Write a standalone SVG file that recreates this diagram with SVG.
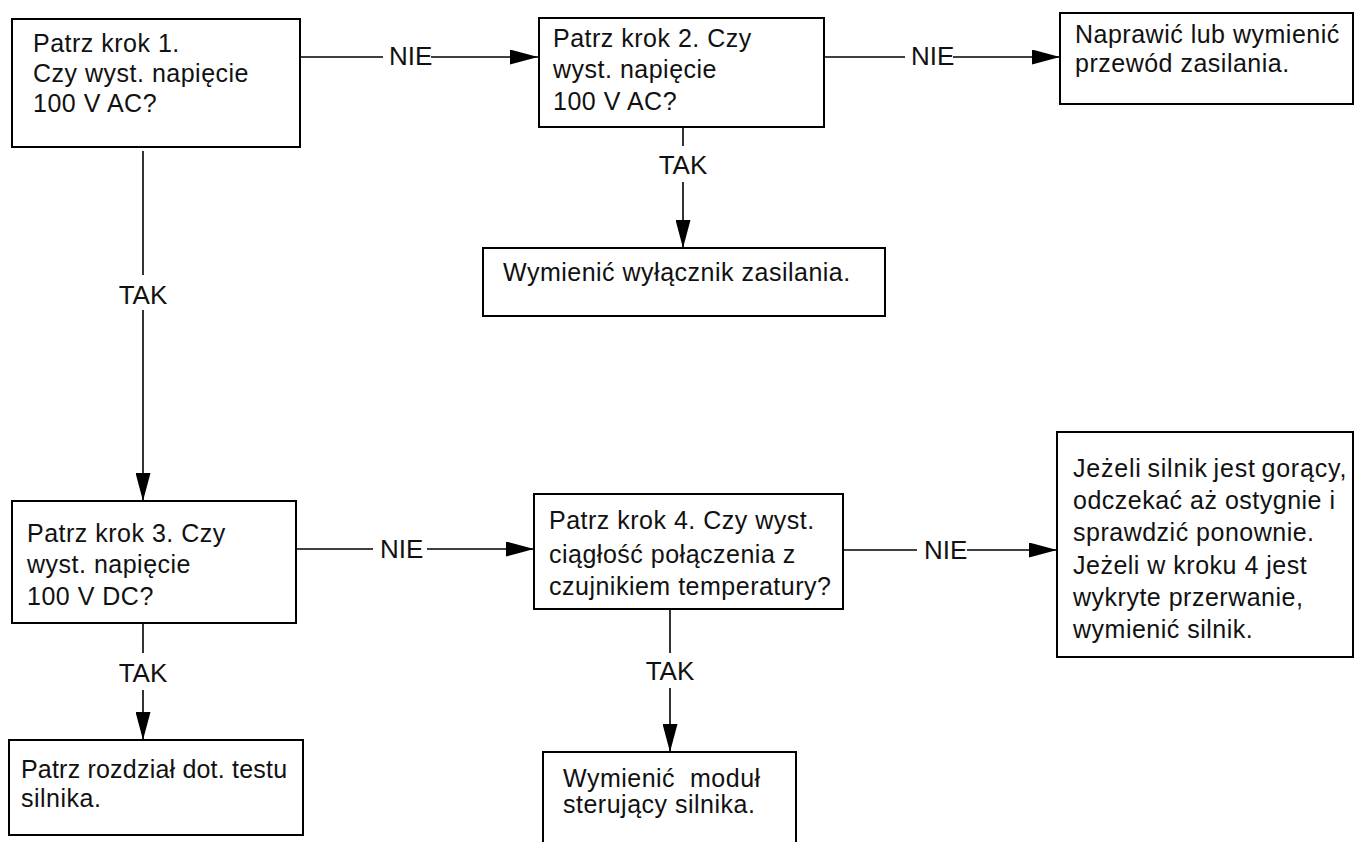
<svg xmlns="http://www.w3.org/2000/svg" width="1356" height="842" viewBox="0 0 1356 842">
<style>
.box{fill:#fff;stroke:#000;stroke-width:2}
.t{font-family:"Liberation Sans",Arial,Helvetica,sans-serif;font-size:25px;letter-spacing:0.5px;fill:#111}
.lbl{font-family:"Liberation Sans",Arial,Helvetica,sans-serif;font-size:26px;fill:#111}
.c{stroke:#000;stroke-width:1.6;fill:none}
</style>
<defs>
<marker id="ah" viewBox="0 0 28 15" markerWidth="28" markerHeight="15" refX="28" refY="7.5" orient="auto" markerUnits="userSpaceOnUse">
<path d="M0,0 L28,7.5 L0,15 Z" fill="#000"/>
</marker>
</defs>
<rect width="1356" height="842" fill="#fff"/>

<g id="n1">
<rect class="box" x="12" y="19" width="288" height="128"/>
<text class="t"><tspan x="33" y="52">Patrz krok 1.</tspan><tspan x="33" y="82">Czy wyst. napięcie</tspan><tspan x="33" y="112">100 V AC?</tspan></text>
</g>
<g id="n2">
<rect class="box" x="539" y="18" width="285" height="109"/>
<text class="t"><tspan x="553" y="47">Patrz krok 2. Czy</tspan><tspan x="553" y="78">wyst. napięcie</tspan><tspan x="553" y="110">100 V AC?</tspan></text>
</g>
<g id="n3">
<rect class="box" x="1060" y="13" width="293" height="91"/>
<text class="t"><tspan x="1075" y="43">Naprawić lub wymienić</tspan><tspan x="1075" y="72">przewód zasilania.</tspan></text>
</g>
<g id="n4">
<rect class="box" x="483" y="248" width="402" height="68"/>
<text class="t" x="503" y="281">Wymienić wyłącznik zasilania.</text>
</g>
<g id="n5">
<rect class="box" x="12" y="501" width="284" height="122"/>
<text class="t"><tspan x="27" y="542">Patrz krok 3. Czy</tspan><tspan x="27" y="573">wyst. napięcie</tspan><tspan x="27" y="605">100 V DC?</tspan></text>
</g>
<g id="n6">
<rect class="box" x="534" y="494" width="309" height="115"/>
<text class="t"><tspan x="549" y="529">Patrz krok 4. Czy wyst.</tspan><tspan x="549" y="563">ciągłość połączenia z</tspan><tspan x="549" y="595">czujnikiem temperatury?</tspan></text>
</g>
<g id="n7">
<rect class="box" x="1057" y="432" width="296" height="225"/>
<text class="t"><tspan x="1073" y="477" style="word-spacing:-2px;letter-spacing:0.8px">Jeżeli silnik jest gorący,</tspan><tspan x="1073" y="509">odczekać aż ostygnie i</tspan><tspan x="1073" y="541">sprawdzić ponownie.</tspan><tspan x="1073" y="574">Jeżeli w kroku 4 jest</tspan><tspan x="1073" y="606">wykryte przerwanie,</tspan><tspan x="1073" y="638">wymienić silnik.</tspan></text>
</g>
<g id="n8">
<rect class="box" x="9" y="740" width="294" height="95"/>
<text class="t"><tspan x="21" y="778" style="letter-spacing:0.2px">Patrz rozdział dot. testu</tspan><tspan x="21" y="807">silnika.</tspan></text>
</g>
<g id="n9">
<rect class="box" x="543" y="752" width="253" height="100"/>
<text class="t" xml:space="preserve"><tspan x="563" y="787">Wymienić  moduł</tspan><tspan x="563" y="813">sterujący silnika.</tspan></text>
</g>

<g id="connectors">
<line class="c" x1="300" y1="57" x2="383" y2="57"/>
<line class="c" x1="431" y1="57" x2="538" y2="57" marker-end="url(#ah)"/>
<text class="lbl" x="389" y="65">NIE</text>

<line class="c" x1="824" y1="57" x2="905" y2="57"/>
<line class="c" x1="953" y1="57" x2="1060" y2="57" marker-end="url(#ah)"/>
<text class="lbl" x="911" y="65">NIE</text>

<line class="c" x1="683" y1="127" x2="683" y2="146"/>
<line class="c" x1="683" y1="182" x2="683" y2="248" marker-end="url(#ah)"/>
<text class="lbl" x="683" y="174" text-anchor="middle">TAK</text>

<line class="c" x1="143" y1="151" x2="143" y2="275"/>
<line class="c" x1="143" y1="310" x2="143" y2="501" marker-end="url(#ah)"/>
<text class="lbl" x="143" y="304" text-anchor="middle">TAK</text>

<line class="c" x1="296" y1="549" x2="373" y2="549"/>
<line class="c" x1="427" y1="549" x2="534" y2="549" marker-end="url(#ah)"/>
<text class="lbl" x="380" y="558">NIE</text>

<line class="c" x1="843" y1="550" x2="917" y2="550"/>
<line class="c" x1="967" y1="550" x2="1057" y2="550" marker-end="url(#ah)"/>
<text class="lbl" x="924" y="559">NIE</text>

<line class="c" x1="143" y1="623" x2="143" y2="653"/>
<line class="c" x1="143" y1="690" x2="143" y2="740" marker-end="url(#ah)"/>
<text class="lbl" x="143" y="682" text-anchor="middle">TAK</text>

<line class="c" x1="670" y1="609" x2="670" y2="653"/>
<line class="c" x1="670" y1="688" x2="670" y2="752" marker-end="url(#ah)"/>
<text class="lbl" x="670" y="680" text-anchor="middle">TAK</text>
</g>
</svg>
